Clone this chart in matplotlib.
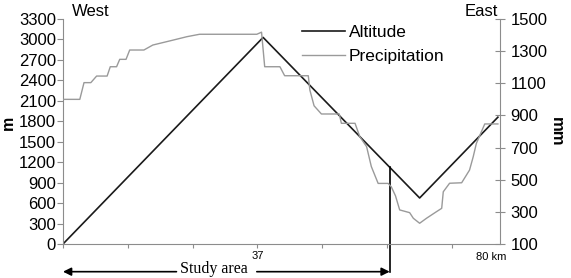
import numpy as np
import matplotlib
matplotlib.use('Agg')
import matplotlib.pyplot as plt

plt.rcParams['font.family'] = ['Liberation Sans', 'DejaVu Sans']

# altitude profile (km, m)
alt_km = [0, 38.1, 67.9, 82.8]
alt_m = [0, 3030, 675, 1860]

# precipitation profile (km, mm)
pre_km = [0, 3.2, 4.0, 5.3, 6.4, 8.4, 9.0, 10.2, 10.8, 12.0, 12.7, 15.4, 17.1, 21.0,
          23.6, 26.0, 36.9, 37.8, 38.4, 41.3, 42.2, 46.7, 47.0, 47.8, 49.2, 52.6,
          53.0, 55.6, 56.5, 57.8, 58.7, 60.0, 61.9, 62.5, 63.3, 64.1, 66.0, 66.7,
          67.9, 69.2, 71.1, 72.1, 72.4, 73.6, 75.9, 77.4, 78.1, 78.7, 80.3, 82.8]
pre_mm = [1000, 1000, 1104, 1104, 1145, 1145, 1203, 1203, 1249, 1249, 1307, 1307, 1338, 1369,
          1390, 1405, 1405, 1418, 1203, 1203, 1147, 1147, 1058, 960, 909, 909,
          851, 851, 768, 706, 582, 477, 477, 456, 400, 312, 295, 260,
          229, 260, 301, 322, 425, 478, 481, 560, 643, 726, 847, 847]

left_ticks = list(range(0, 3301, 300))
right_ticks = [100, 300, 500, 700, 900, 1100, 1300, 1500]
study_km = 62.2

fig = plt.figure(figsize=(5.71, 2.78), dpi=100)
ax = fig.add_axes([63 / 571, 34 / 278, 437 / 571, 225 / 278])
ax2 = ax.twinx()

l1, = ax.plot(alt_km, alt_m, color='#1a1a1a', lw=1.2, label='Altitude')
l2, = ax2.plot(pre_km, pre_mm, color='#9a9a9a', lw=1.0, label='Precipitation')

ax.set_xlim(0, 83.2)
ax.set_ylim(0, 3300)
ax2.set_ylim(100, 1500)
ax.set_yticks(left_ticks)
ax2.set_yticks(right_ticks)
ax.set_xticks([i * 37 / 3 for i in range(7)])
ax.set_xticklabels([''] * 3 + ['37'] + [''] * 3, fontsize=8)

for a in (ax, ax2):
    for s in a.spines.values():
        s.set_color('#8c8c8c')
    a.spines['top'].set_visible(False)
ax.spines['right'].set_visible(False)
ax2.spines['left'].set_visible(False)
ax2.spines['bottom'].set_visible(False)

ax.tick_params(axis='y', direction='out', length=4, color='#8c8c8c', labelsize=12, pad=1)
ax.tick_params(axis='x', direction='out', length=3, color='#8c8c8c', pad=2)
ax2.tick_params(axis='y', direction='inout', length=7, color='#8c8c8c', labelsize=12, pad=4)

ax.set_ylabel('m', fontsize=11.5, fontweight='bold')
ax.yaxis.set_label_coords(-0.108, 0.54)
ax2.set_ylabel('mm', fontsize=12, fontweight='bold', rotation=270, labelpad=12)

ax.text(0.02, 1.0, 'West', transform=ax.transAxes, fontsize=12, va='bottom', ha='left')
ax.text(0.995, 1.0, 'East', transform=ax.transAxes, fontsize=12, va='bottom', ha='right')
ax.text(81.5, -120, '80 km', fontsize=8, ha='center', va='top')

ax.legend(handles=[l1, l2], loc='upper left', bbox_to_anchor=(0.535, 0.995), frameon=False,
          fontsize=12.5, handlelength=2.5, labelspacing=0.5, borderaxespad=0, borderpad=0.3,
          handletextpad=0.2)

# study area marker
alt_at = np.interp(study_km, alt_km, alt_m)
ax.plot([study_km, study_km], [alt_at, -406], color='black', lw=1.2, clip_on=False)
ax.text(28.7, -372, 'Study area', family='Liberation Serif', fontsize=11.5, ha='center', va='center')
ax.annotate('', xy=(0, -406), xytext=(21.6, -406), annotation_clip=False,
            arrowprops=dict(arrowstyle='-|>', color='black', lw=1.2, mutation_scale=12, shrinkA=0, shrinkB=0))
ax.annotate('', xy=(study_km, -406), xytext=(36.9, -406), annotation_clip=False,
            arrowprops=dict(arrowstyle='-|>', color='black', lw=1.2, mutation_scale=12, shrinkA=0, shrinkB=0))

fig.savefig('out.png', dpi=100)
